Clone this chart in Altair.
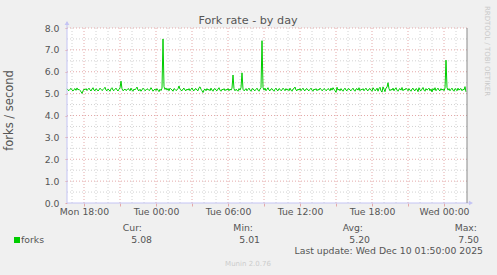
import altair as alt
import pandas as pd

# ---------------- data ----------------
title_text = "Fork rate - by day"
y_title = "forks / second"
series_name = "forks"
end_time = "2025-12-10 01:50:00"

fork_values = [
    5.22, 5.16, 5.14, 5.20, 5.24, 5.17, 5.12, 5.19, 5.23, 5.15, 5.26, 5.17, 5.20, 5.14, 5.10, 5.01, 5.12, 5.21, 5.17, 5.23,
    5.14, 5.20, 5.25, 5.17, 5.12, 5.21, 5.27, 5.16, 5.13, 5.22, 5.19, 5.12, 5.17, 5.25, 5.20, 5.14, 5.18, 5.23, 5.29, 5.16,
    5.13, 5.21, 5.17, 5.11, 5.22, 5.27, 5.16, 5.14, 5.20, 5.25, 5.17, 5.12, 5.20, 5.26, 5.57, 5.22, 5.13, 5.17, 5.21, 5.14,
    5.17, 5.23, 5.20, 5.13, 5.25, 5.16, 5.11, 5.21, 5.17, 5.23, 5.30, 5.16, 5.13, 5.20, 5.11, 5.17, 5.25, 5.20, 5.13, 5.17,
    5.22, 5.20, 5.14, 5.17, 5.27, 5.20, 5.11, 5.17, 5.21, 5.14, 5.23, 5.16, 5.09, 5.20, 5.14, 5.25, 7.50, 5.32, 5.19, 5.26,
    5.16, 5.23, 5.13, 5.25, 5.20, 5.17, 5.11, 5.23, 5.20, 5.14, 5.17, 5.23, 5.35, 5.20, 5.16, 5.13, 5.21, 5.25, 5.16, 5.13,
    5.21, 5.16, 5.23, 5.13, 5.20, 5.26, 5.16, 5.13, 5.21, 5.23, 5.16, 5.13, 5.27, 5.31, 5.20, 5.13, 5.05, 5.17, 5.21, 5.13,
    5.23, 5.16, 5.20, 5.13, 5.25, 5.16, 5.11, 5.21, 5.23, 5.16, 5.13, 5.21, 5.27, 5.16, 5.11, 5.20, 5.17, 5.23, 5.13, 5.20,
    5.16, 5.23, 5.13, 5.21, 5.16, 5.25, 5.85, 5.22, 5.13, 5.20, 5.16, 5.11, 5.23, 5.16, 5.27, 5.95, 5.20, 5.13, 5.17, 5.23,
    5.13, 5.20, 5.25, 5.16, 5.11, 5.21, 5.23, 5.16, 5.13, 5.20, 5.25, 5.16, 5.11, 5.21, 5.27, 7.42, 5.28, 5.16, 5.25, 5.13,
    5.20, 5.27, 5.16, 5.13, 5.21, 5.23, 5.16, 5.11, 5.20, 5.25, 5.16, 5.13, 5.23, 5.20, 5.13, 5.17, 5.25, 5.20, 5.13, 5.23,
    5.16, 5.20, 5.13, 5.25, 5.16, 5.11, 5.21, 5.23, 5.30, 5.16, 5.13, 5.21, 5.16, 5.23, 5.13, 5.20, 5.25, 5.16, 5.13, 5.21,
    5.23, 5.16, 5.13, 5.20, 5.25, 5.16, 5.11, 5.21, 5.17, 5.23, 5.13, 5.20, 5.16, 5.25, 5.20, 5.13, 5.17, 5.23, 5.20, 5.13,
    5.17, 5.23, 5.20, 5.13, 5.25, 5.16, 5.27, 5.20, 5.13, 5.06, 5.29, 5.16, 5.21, 5.13, 5.23, 5.16, 5.11, 5.20, 5.25, 5.16,
    5.13, 5.21, 5.23, 5.16, 5.13, 5.20, 5.25, 5.16, 5.11, 5.21, 5.23, 5.16, 5.27, 5.13, 5.20, 5.17, 5.23, 5.13, 5.20, 5.25,
    5.16, 5.13, 5.21, 5.23, 5.16, 5.11, 5.27, 5.20, 5.13, 5.17, 5.25, 5.11, 5.23, 5.29, 5.13, 5.07, 5.31, 5.20, 5.09, 5.26,
    5.29, 5.50, 5.22, 5.13, 5.20, 5.16, 5.25, 5.13, 5.21, 5.27, 5.16, 5.11, 5.20, 5.23, 5.16, 5.28, 5.13, 5.20, 5.17, 5.25,
    5.20, 5.13, 5.23, 5.16, 5.11, 5.21, 5.25, 5.16, 5.13, 5.23, 5.20, 5.09, 5.27, 5.16, 5.13, 5.21, 5.28, 5.16, 5.11, 5.23,
    5.16, 5.20, 5.25, 5.13, 5.21, 5.08, 5.23, 5.16, 5.27, 5.13, 5.20, 5.25, 5.16, 5.13, 5.23, 5.16, 5.21, 5.13, 5.25, 6.53,
    5.28, 5.16, 5.23, 5.13, 5.20, 5.25, 5.16, 5.11, 5.23, 5.20, 5.13, 5.25, 5.16, 5.21, 5.23, 5.13, 5.20, 5.17, 5.32, 5.08,
]

legend_labels = ["Cur:", "Min:", "Avg:", "Max:"]
legend_values = ["5.08", "5.01", "5.20", "7.50"]
last_update = "Last update: Wed Dec 10 01:50:00 2025"
footer_text = "Munin 2.0.76"
watermark_text = "RRDTOOL / TOBI OETIKER"

y_major = [0, 1, 2, 3, 4, 5, 6, 7, 8]
y_minor = [0.5, 1.5, 2.5, 3.5, 4.5, 5.5, 6.5, 7.5]
# major x ticks (every 3 h), labels shown every 6 h
x_major_ticks = [(8, 18), (8, 21), (9, 0), (9, 3), (9, 6), (9, 9), (9, 12),
                 (9, 15), (9, 18), (9, 21), (10, 0)]

# ---------------- frames ----------------
times = pd.date_range(end=end_time, periods=len(fork_values), freq="5min")
df = pd.DataFrame({"time": times.strftime("%Y-%m-%dT%H:%M:%S"), "forks": fork_values})

hours = pd.date_range("2025-12-08 17:00", "2025-12-10 01:00", freq="h")
df_hmajor = pd.DataFrame({"time": [h.strftime("%Y-%m-%dT%H:%M:%S") for h in hours if h.hour % 3 == 0]})
df_hminor = pd.DataFrame({"time": [h.strftime("%Y-%m-%dT%H:%M:%S") for h in hours if h.hour % 3 != 0]})
df_ymajor = pd.DataFrame({"forks": y_major[1:]})
df_yminor = pd.DataFrame({"forks": y_minor})

FONT = "DejaVu Sans"
TXT = "#555555"
GREEN = "#00CC00"
MAJOR = "#e4a9a9"
MINOR = "#d2d2d2"
AXIS_BLUE = "#c4c4f4"

x_scale = alt.Scale(domain=[alt.DateTime(year=2025, month="Dec", date=8, hours=16, minutes=35),
                            alt.DateTime(year=2025, month="Dec", date=10, hours=1, minutes=55)])
y_scale = alt.Scale(domain=[0, 8], nice=False, zero=False)

tick_values = [alt.DateTime(year=2025, month="Dec", date=d, hours=h) for d, h in x_major_ticks]

x_axis = alt.Axis(values=tick_values, format="%a %H:%M",
                  labelExpr="hours(datum.value) % 6 == 0 ? datum.label : ''",
                  grid=False, domain=False, tickColor=MAJOR, tickSize=3,
                  labelPadding=1.5, labelFont=FONT, labelFontSize=9.3,
                  labelColor=TXT, labelFlush=False, labelOverlap=False)
y_axis = alt.Axis(values=y_major, format=".1f", grid=False, domain=False,
                  tickColor=MAJOR, tickSize=2, labelPadding=6, labelFont=FONT,
                  labelFontSize=9.3, labelColor=TXT)

X = alt.X("time:T", scale=x_scale, axis=x_axis, title=None)
Y = alt.Y("forks:Q", scale=y_scale, axis=y_axis, title=None)

# ---------------- grid ----------------
grid_xminor = alt.Chart(df_hminor).mark_rule(color=MINOR, strokeDash=[1, 2], strokeWidth=1).encode(x=X)
grid_yminor = alt.Chart(df_yminor).mark_rule(color=MINOR, strokeDash=[1, 2], strokeWidth=1).encode(y=Y)
grid_xmajor = alt.Chart(df_hmajor).mark_rule(color=MAJOR, strokeDash=[1, 2], strokeWidth=1).encode(x=X)
grid_ymajor = alt.Chart(df_ymajor).mark_rule(color=MAJOR, strokeDash=[1, 2], strokeWidth=1).encode(y=Y)

# ---------------- series ----------------
line = alt.Chart(df).mark_line(color=GREEN, strokeWidth=1, interpolate="linear").encode(x=X, y=Y)

# ---------------- frame decorations ----------------
one = alt.Data(values=[{"a": 1}])
left_axis = alt.Chart(one).mark_rule(color=AXIS_BLUE, strokeWidth=1).encode(
    x=alt.value(0), y=alt.value(-6), y2=alt.value(175))
bottom_axis = alt.Chart(one).mark_rule(color=AXIS_BLUE, strokeWidth=1).encode(
    x=alt.value(0), x2=alt.value(403), y=alt.value(175))
right_border = alt.Chart(one).mark_rule(color="#8a8a8a", strokeWidth=1).encode(
    x=alt.value(400), y=alt.value(0), y2=alt.value(175))
arrow_up = alt.Chart(one).mark_point(shape="triangle-up", filled=True, color=AXIS_BLUE, size=22, opacity=1).encode(
    x=alt.value(0), y=alt.value(-5))
arrow_right = alt.Chart(one).mark_point(shape="triangle-right", filled=True, color=AXIS_BLUE, size=22, opacity=1).encode(
    x=alt.value(404), y=alt.value(175))


def label(text, x, y, size=9.3, align="left", color=TXT, angle=0, baseline="alphabetic"):
    return alt.Chart(alt.Data(values=[{"t": text}])).mark_text(
        font=FONT, fontSize=size, align=align, baseline=baseline, color=color, angle=angle
    ).encode(text="t:N", x=alt.value(x), y=alt.value(y))


texts = [
    label(title_text, 181, -3.8, size=11.2, align="center"),
    label(y_title, -57, 82.5, size=11.5, align="center", angle=270, baseline="middle"),
    label(watermark_text, 420, 23, size=7, align="center", color="#c9c9c9", angle=90, baseline="middle"),
    label(series_name, -46, 214.7),
    label(last_update, 416, 226.4, align="right"),
    label(footer_text, 181, 238, size=7, align="center", color="#cccccc"),
]
label_right = [75, 186, 296, 410]
value_right = [85, 193, 303, 412]
for lab, val, lx, vx in zip(legend_labels, legend_values, label_right, value_right):
    texts.append(label(lab, lx, 202.7, align="right"))
    texts.append(label(val, vx, 214.7, align="right"))

swatch = alt.Chart(one).mark_square(color=GREEN, size=36, opacity=1).encode(
    x=alt.value(-50), y=alt.value(212))

chart = alt.layer(
    grid_xminor, grid_yminor, grid_xmajor, grid_ymajor,
    line, left_axis, bottom_axis, right_border, arrow_up, arrow_right, swatch, *texts
).properties(
    width=400, height=175,
    background="#F0F0F0",
    padding={"left": 67, "top": 28, "right": 30, "bottom": 72},
    autosize=alt.AutoSizeParams(type="none"),
).configure_view(fill="white", stroke=None)

chart.save("out.html", embed_options={"renderer": "svg", "actions": False})
